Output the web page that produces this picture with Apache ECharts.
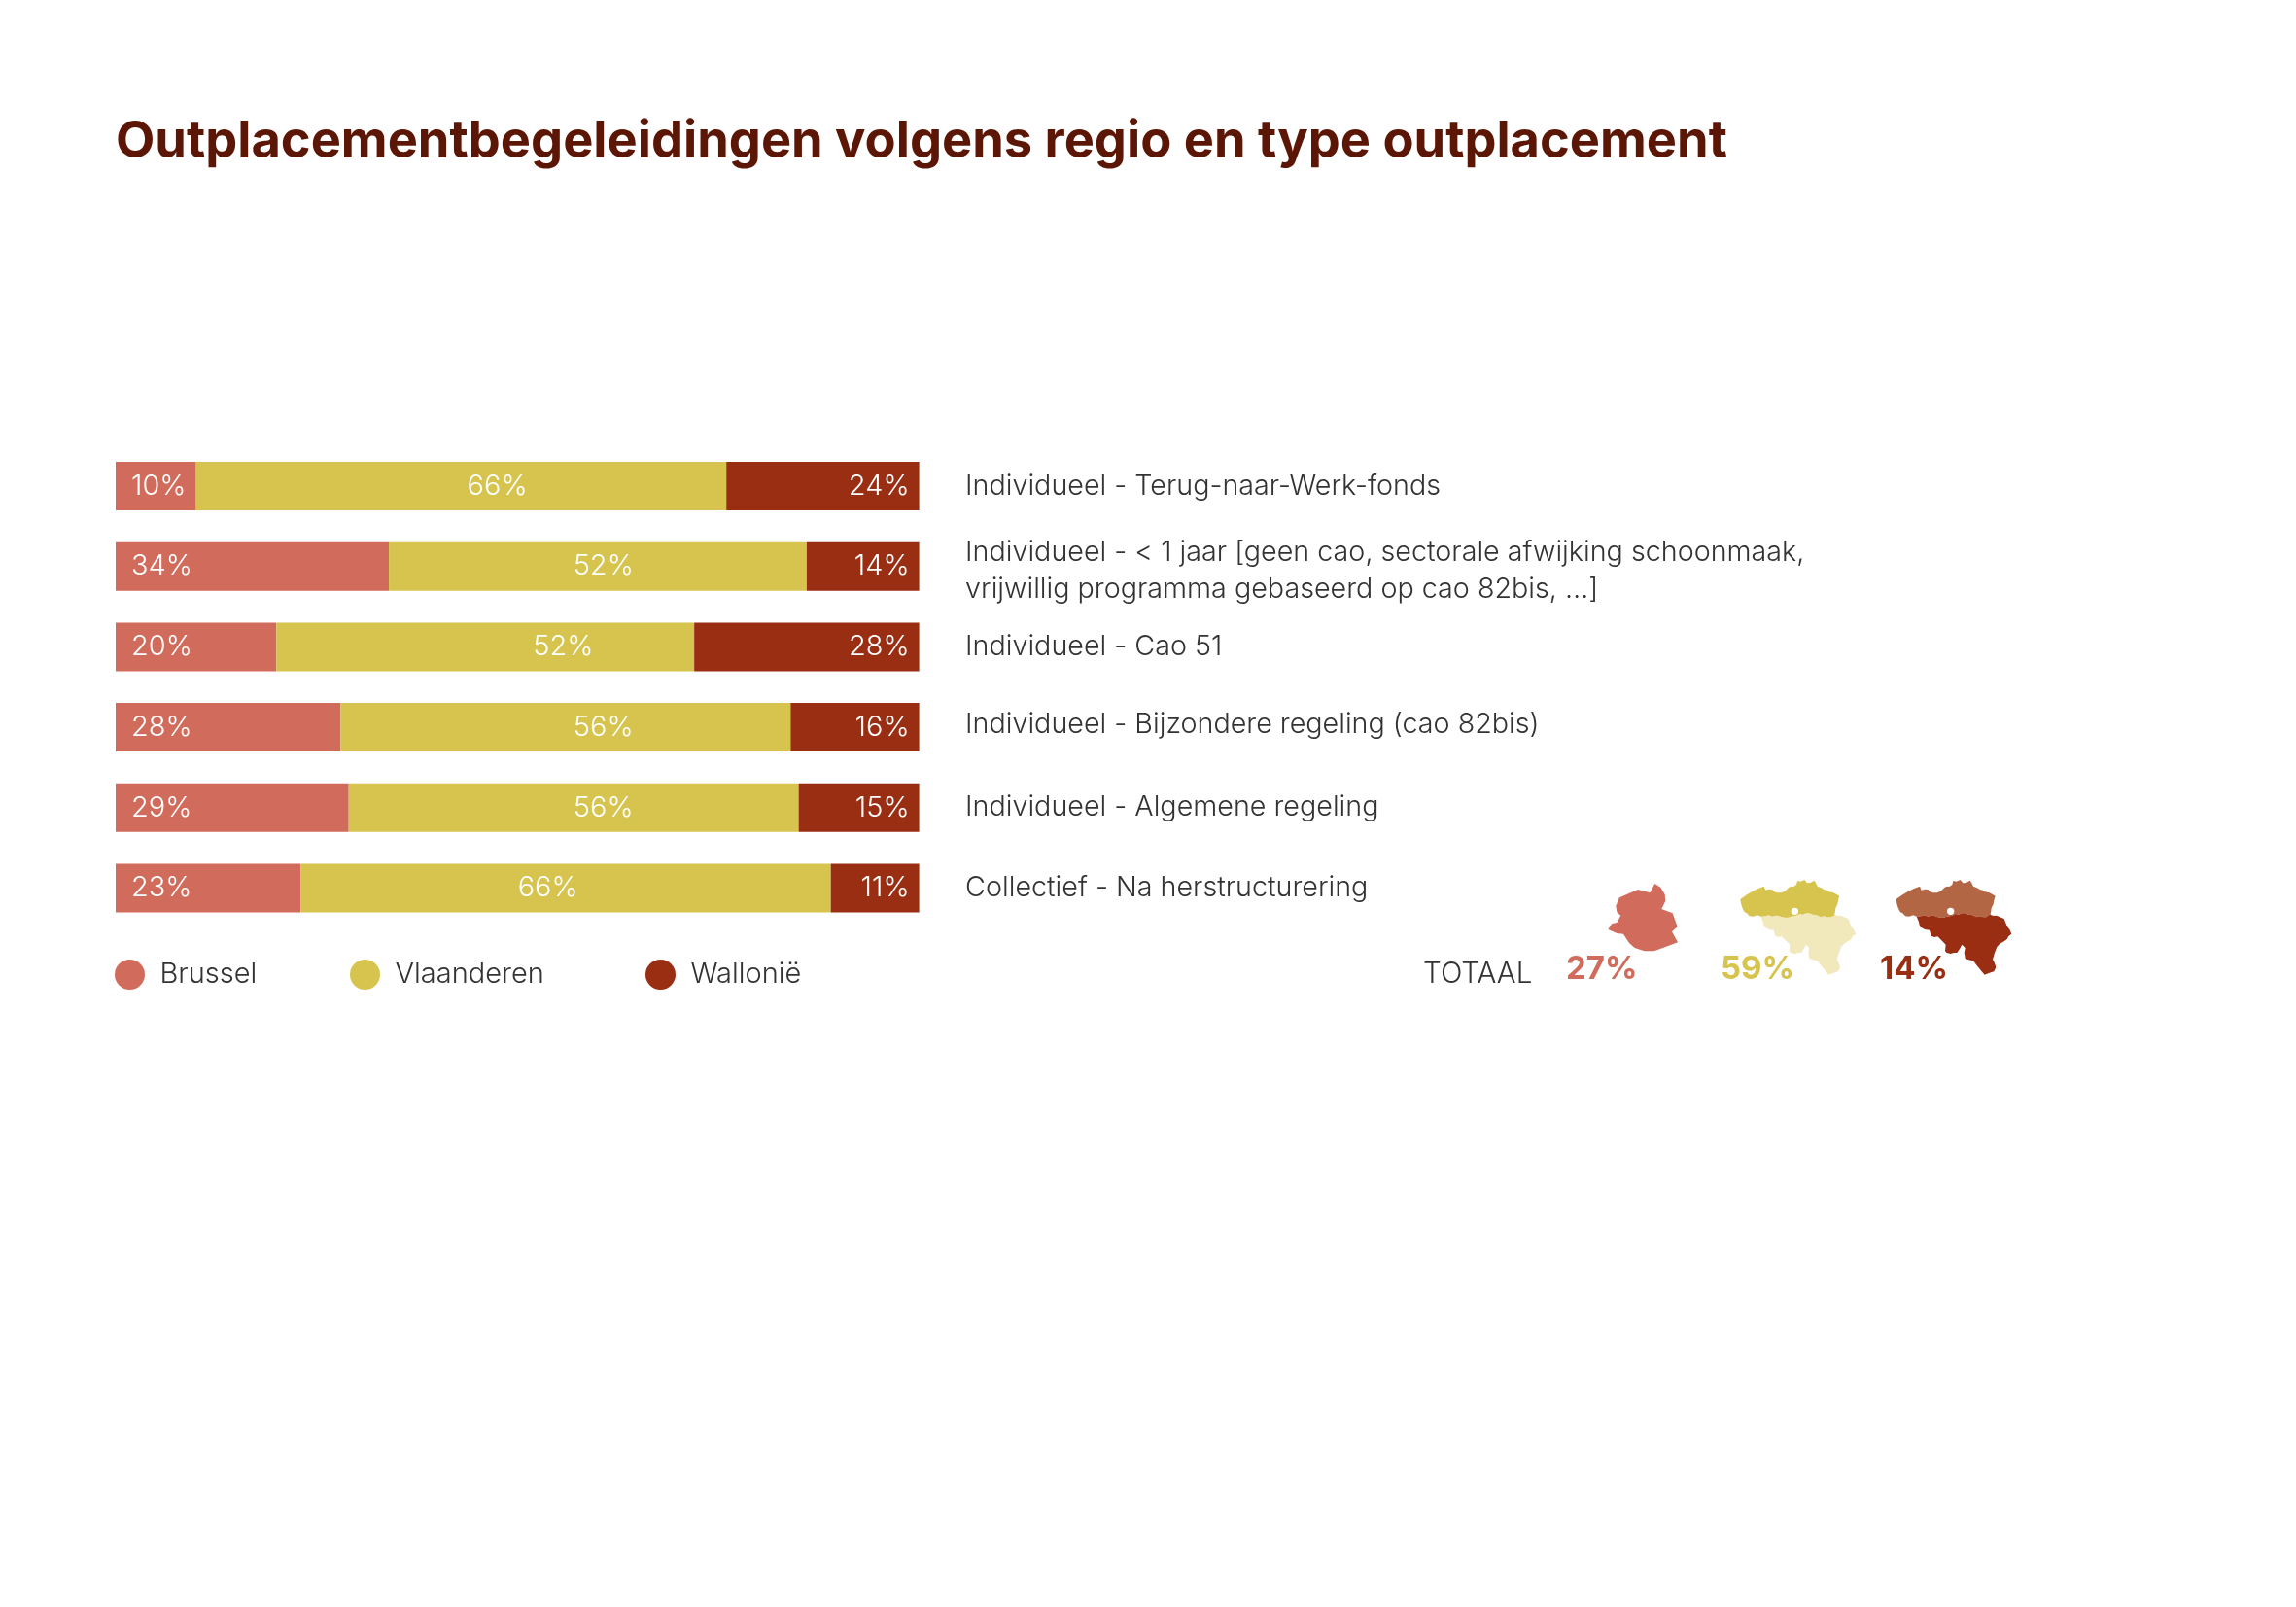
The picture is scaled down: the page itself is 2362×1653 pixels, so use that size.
<!DOCTYPE html>
<html><head><meta charset="utf-8">
<style>html,body{margin:0;padding:0;background:#fff}#c{width:2362px;height:1653px}</style>
<script src="https://cdn.jsdelivr.net/npm/echarts@6/dist/echarts.min.js"></script>
</head><body><div id="c"></div>
<script>
const categories = [
  'Individueel - Terug-naar-Werk-fonds',
  'Individueel - < 1 jaar [geen cao, sectorale afwijking schoonmaak,\nvrijwillig programma gebaseerd op cao 82bis, …]',
  'Individueel - Cao 51',
  'Individueel - Bijzondere regeling (cao 82bis)',
  'Individueel - Algemene regeling',
  'Collectief - Na herstructurering'
];
const brussel    = [10, 34, 20, 28, 29, 23];
const vlaanderen = [66, 52, 52, 56, 56, 66];
const wallonie   = [24, 14, 28, 16, 15, 11];
const seriesNames = ['Brussel', 'Vlaanderen', 'Wallonië'];
const totals = ['27%', '59%', '14%'];

const C = {br:'#d16b5b', vl:'#d7c44f', wa:'#992e13', title:'#5b1605', text:'#333333',
           flLight:'#f1e8bb', flTop:'#b36644'};
const FONT = 'Inter';
const plot = {left:119, width:826.6, top:458.65, height:496.2, bar:50};

// where the middle labels sit along the bar, in axis units
const vlLabelAt = [47.5, 60.7, 55.7, 60.7, 60.7, 53.8];
// vertical nudge of the category labels in px
const catNudge = [0, 4.5, 0, -3, 0, 0];

// pictogram outlines (traced at 3x, local to the icon)
const brusselsIcon = [[757,27],[775,38],[788,60],[790,80],[778,105],[812,118],[827,160],[810,175],[828,208],[790,222],[755,235],[725,235],[695,225],[678,210],[660,182],[640,180],[613,168],[625,150],[640,147],[652,125],[640,115],[637,95],[648,70],[705,45],[742,55]];
const flandersIcon = [[392,75],[410,62],[430,50],[447,42],[465,35],[470,47],[480,44],[490,45],[497,52],[505,55],[518,55],[530,50],[540,40],[548,35],[556,36],[565,30],[568,18],[578,20],[590,15],[598,25],[608,24],[620,17],[625,25],[630,35],[642,40],[650,45],[660,47],[665,52],[680,55],[698,65],[694,78],[692,90],[686,102],[685,112],[682,125],[670,130],[660,130],[650,127],[640,130],[628,124],[615,122],[605,118],[595,118],[585,122],[575,120],[565,125],[550,128],[535,132],[520,130],[510,126],[500,125],[490,128],[480,124],[470,127],[455,128],[445,124],[432,128],[420,127],[412,118],[405,115],[400,106],[397,98],[394,88]];
const walloniaIcon = [[455,128],[470,127],[480,124],[490,128],[500,125],[510,126],[520,130],[535,132],[550,128],[565,125],[575,120],[585,122],[595,118],[605,118],[615,122],[628,124],[640,130],[650,127],[660,130],[670,130],[682,122],[692,126],[702,125],[712,130],[725,135],[730,148],[735,160],[742,168],[748,182],[738,190],[735,197],[725,205],[712,212],[703,222],[696,240],[690,260],[696,272],[700,285],[694,298],[680,302],[665,308],[656,298],[650,290],[640,278],[630,265],[616,262],[605,258],[602,240],[605,225],[595,215],[588,228],[580,240],[570,240],[560,243],[548,240],[543,235],[545,215],[535,205],[520,190],[510,192],[500,188],[497,178],[495,170],[480,168],[465,160],[462,145]];
const holeIcon = {cx:560, cy:112, r:11};

const icon = (pts, ox, oy, fill, z) => ({type:'polygon', silent:true, z:z||10,
  shape:{points:pts.map(p => [ox + p[0]/3, oy + p[1]/3])}, style:{fill}});
const hole = (ox, oy) => ({type:'circle', silent:true, z:12,
  shape:{cx:ox+holeIcon.cx/3, cy:oy+holeIcon.cy/3, r:holeIcon.r/3}, style:{fill:'#fff'}});
const note = (text, x, y, size, weight, fill) => ({type:'text', silent:true, z:13,
  style:{text, x, y, font:`${weight} ${size}px ${FONT}`, fill, textAlign:'left', textVerticalAlign:'bottom'}});

const dxFl = 1820 - 160.3, dxWa = 1820, dy = 900;

const barLabel = {show:true, color:'#fff', fontFamily:FONT, fontWeight:300, fontSize:29, formatter:p => p.value + '%'};

// category labels: a thin spacer line above or below shifts the centred block
const catText = {color:C.text, fontFamily:FONT, fontWeight:300, fontSize:28.7, lineHeight:38};
const catRich = {plain:catText};
catNudge.forEach((n,i) => { catRich['s'+i] = {fontSize:1, lineHeight:Math.abs(n)*2 || 1}; });

const option = {
  animation:false,
  backgroundColor:'#fff',
  title:{text:'Outplacementbegeleidingen volgens regio en type outplacement', left:119, top:120, padding:0,
    textStyle:{color:C.title, fontFamily:FONT, fontWeight:700, fontSize:52.4}},
  grid:{left:plot.left, width:plot.width, top:plot.top, height:plot.height, containLabel:false},
  xAxis:{type:'value', min:0, max:100, show:false},
  yAxis:{type:'category', inverse:true, position:'right', data:categories,
    axisLine:{show:false}, axisTick:{show:false},
    axisLabel:{margin:47.5, align:'left', interval:0, rich:catRich, ...catText,
      formatter:(v) => {
        const i = categories.indexOf(v), n = catNudge[i];
        const lines = v.split('\n').map(l => `{plain|${l}}`);
        if (n > 0) lines.unshift(`{s${i}| }`);
        if (n < 0) lines.push(`{s${i}| }`);
        return lines.join('\n');
      }}},
  legend:seriesNames.map((n,i) => ({
    data:[n], left:[118,360,664][i], top:987, padding:0, itemWidth:31, itemHeight:31, icon:'circle', selectedMode:false,
    textStyle:{color:C.text, fontFamily:FONT, fontWeight:300, fontSize:29, padding:[0,0,0,10.5]}
  })),
  series:[
    {name:'Brussel', type:'bar', stack:'t', barWidth:plot.bar, data:brussel, itemStyle:{color:C.br},
      label:{...barLabel, position:'insideLeft', distance:16}},
    {name:'Vlaanderen', type:'bar', stack:'t', barWidth:plot.bar, itemStyle:{color:C.vl},
      data:vlaanderen.map((v,i) => ({value:v, label:{...barLabel, position:'inside',
        offset:[(vlLabelAt[i] - (brussel[i] + v/2)) * plot.width/100, 0]}})),
      label:barLabel},
    {name:'Wallonië', type:'bar', stack:'t', barWidth:plot.bar, data:wallonie, itemStyle:{color:C.wa},
      label:{...barLabel, position:'insideRight', distance:10}}
  ],
  graphic:{elements:[
    note('TOTAAL', 1464, 1017, 29.5, 300, C.text),
    note(totals[0], 1611, 1014, 33, 700, C.br),
    note(totals[1], 1770, 1014, 33, 700, C.vl),
    note(totals[2], 1934, 1014, 33, 700, C.wa),
    icon(brusselsIcon, 1450, dy, C.br),
    icon(walloniaIcon, dxFl, dy, C.flLight, 10),
    icon(flandersIcon, dxFl, dy, C.vl, 11),
    hole(dxFl, dy),
    icon(flandersIcon, dxWa, dy, C.flTop, 10),
    icon(walloniaIcon, dxWa, dy, C.wa, 11),
    hole(dxWa, dy)
  ]}
};
echarts.init(document.getElementById('c')).setOption(option);
</script></body></html>
